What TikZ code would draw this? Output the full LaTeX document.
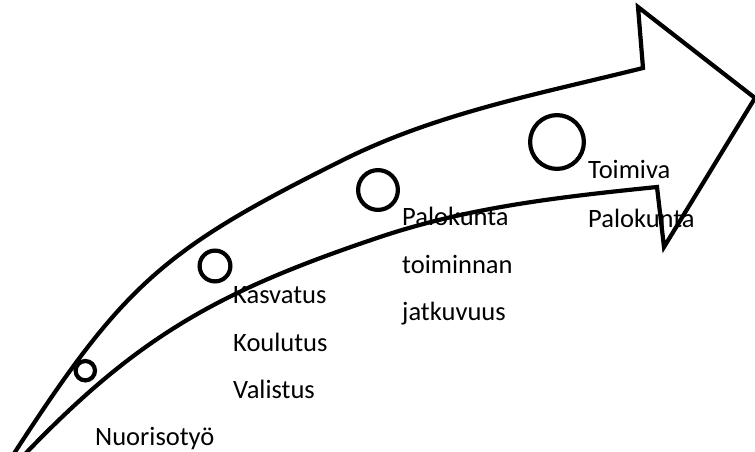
\documentclass[tikz,border=0pt]{standalone}
\usepackage{fontspec}
\setmainfont{Carlito}
\begin{document}
\begin{tikzpicture}[x=1pt,y=-1pt,
  outline/.style={line width=4.2pt,line join=miter,black},
  ring/.style={line width=4.2pt,black},
  lbl/.style={anchor=base west,inner sep=0pt,font=\fontsize{26.5}{30}\selectfont}]
\useasboundingbox (0,0) rectangle (755,452);
\clip (0,0) rectangle (755,452);
% arrow outline
\draw[outline] (4,469) -- (15,452) .. controls (124,284) and (164,249) .. (343,160)
  .. controls (437,113) and (541,93.5) .. (643,68)
  -- (638,7) -- (755,98) -- (664,247) -- (657,187)
  .. controls (562.5,196.7) and (470,206.8) .. (380,237)
  .. controls (223.6,289.5) and (141.5,333) .. (27,452) -- (13,466);
% circles
\draw[ring] (85.3,370.7) circle (9.7);
\draw[ring] (215,266) circle (15.4);
\draw[ring] (378,190) circle (19.9);
\draw[ring] (557,142) circle (26.9);
% labels
\node[lbl] (n1) at (95,445) {Nuorisotyö};
\node[lbl] (k1) at (233,303) {Kasvatus};
\node[lbl] (k2) at (233,351) {Koulutus};
\node[lbl] (k3) at (233,398) {Valistus};
\node[lbl] (p1) at (402,225) {Palokunta};
\node[lbl] (p2) at (402,273) {toiminnan};
\node[lbl] (p3) at (402,320) {jatkuvuus};
\node[lbl] (t1) at (588,178) {Toimiva};
\node[lbl] (t2) at (588,227) {Palokunta};
\end{tikzpicture}
\end{document}
